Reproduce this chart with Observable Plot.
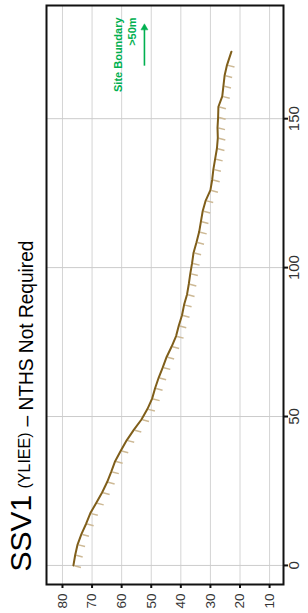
<!DOCTYPE html>
<html><head><meta charset="utf-8">
<script src="https://cdn.jsdelivr.net/npm/d3@7"></script>
<script src="https://cdn.jsdelivr.net/npm/@observablehq/plot@0.6"></script>
<style>body{margin:0;background:#fff;}</style>
</head><body><div id="chart"></div>
<script>
// Profile: chainage (m) and level along the section
const chainage = [0, 3.5, 7, 10.5, 14, 17.5, 21, 24.5, 28, 31.5, 35, 38.5, 42, 45.5, 49, 52.5, 56, 59.5, 63, 66.5, 70, 73.5, 77, 80.5, 84, 87.5, 91, 94.5, 98, 101.5, 105, 108.5, 112, 115.5, 119, 122.5, 126, 129.5, 133, 136.5, 140, 143.5, 147, 150.5, 154, 157.5, 161, 164.5, 168, 172.5];
const level = [76.3, 75.7, 74.9, 73.6, 72.0, 70.6, 68.6, 66.6, 64.9, 63.5, 62.2, 60.3, 58.3, 55.9, 53.3, 51.3, 49.7, 48.7, 47.5, 46.1, 44.8, 43.1, 41.6, 40.7, 39.6, 38.9, 37.9, 37.3, 36.8, 36.2, 35.7, 34.7, 33.8, 33.2, 32.6, 31.6, 30.0, 29.4, 29.0, 28.4, 27.8, 27.5, 27.6, 27.4, 27.3, 26.0, 25.6, 25.2, 24.4, 22.9];

const levelTicks = [80, 70, 60, 50, 40, 30, 20, 10];
const chainageTicks = [0, 50, 100, 150];

const titleMain = "SSV1";
const titleCode = "(YLIEE)";
const titleRest = "– NTHS Not Required";

const noteText = ["Site Boundary", ">50m"];
const noteLevel = [61.1, 56.4];
const noteChainage = [184, 184];
const arrowLevel = [52.3];
const arrowFrom = [167.8];
const arrowTo = [180.5];

const profile = chainage.map((c, i) => ({ch: c, level: level[i]}));
const notes = noteText.map((t, i) => ({text: t, level: noteLevel[i], ch: noteChainage[i]}));
const arrows = arrowLevel.map((l, i) => ({level: l, from: arrowFrom[i], to: arrowTo[i]}));

const hatch = {draw(ctx) { ctx.moveTo(1, 0.3); ctx.lineTo(7.5, 2); }};
const green = "#00b050";
const font = "'Liberation Sans', Arial, sans-serif";

const chart = Plot.plot({
  width: 308,
  height: 613,
  marginLeft: 46,
  marginRight: 25,
  marginTop: 5,
  marginBottom: 29,
  style: {fontFamily: font, background: "#fff"},
  x: {domain: [85.4, 5.3], axis: null},
  y: {domain: [-6.4, 188], axis: null},
  marks: [
    Plot.gridX(levelTicks, {stroke: "#d4d4d4", strokeOpacity: 1, strokeWidth: 1}),
    Plot.gridY(chainageTicks, {stroke: "#cccccc", strokeOpacity: 1, strokeWidth: 1}),
    Plot.axisX(levelTicks, {anchor: "bottom", tickRotate: -90, tickSize: 4, tickPadding: 5, fontSize: 13.5, strokeWidth: 2, stroke: "#111", fill: "#333", label: null}),
    Plot.axisY(chainageTicks, {anchor: "right", tickRotate: -90, tickSize: 4, tickPadding: 11, fontSize: 15, strokeWidth: 2, stroke: "#111", fill: "#333", label: null}),
    Plot.frame({stroke: "#111", strokeWidth: 2}),
    Plot.dot(profile.slice(0, -1), {x: "level", y: "ch", symbol: hatch, fill: "none", stroke: "#cdb995", strokeWidth: 1.5, r: 4}),
    Plot.line(profile, {x: "level", y: "ch", stroke: "#7f5e1a", strokeWidth: 2, curve: "linear"}),
    Plot.text(notes, {x: "level", y: "ch", text: "text", rotate: -90, textAnchor: "end", fill: green, fontWeight: "bold", fontSize: 11}),
    Plot.link(arrows, {x1: "level", x2: "level", y1: "from", y2: "to", stroke: green, strokeWidth: 1.6}),
    Plot.dot(arrows, {x: "level", y: "to", symbol: "triangle", r: 2.6, fill: green, stroke: green, strokeWidth: 0.5}),
    Plot.text([titleMain], {frameAnchor: "bottom-left", text: d => d, rotate: -90, textAnchor: "start", lineAnchor: "bottom", dx: -16, dy: -13, fontSize: 30, fill: "#000"}),
    Plot.text([titleCode], {frameAnchor: "bottom-left", text: d => d, rotate: -90, textAnchor: "start", lineAnchor: "bottom", dx: -17, dy: -96, fontSize: 16, fill: "#000"}),
    Plot.text([titleRest], {frameAnchor: "bottom-left", text: d => d, rotate: -90, textAnchor: "start", lineAnchor: "bottom", dx: -14, dy: -158, fontSize: 21, fill: "#000"})
  ]
});

d3.select(chart).selectAll("text").filter(function() { return this.textContent === titleRest; })
  .attr("textLength", 186).attr("lengthAdjust", "spacingAndGlyphs");

document.getElementById("chart").append(chart);
</script>
</body></html>
